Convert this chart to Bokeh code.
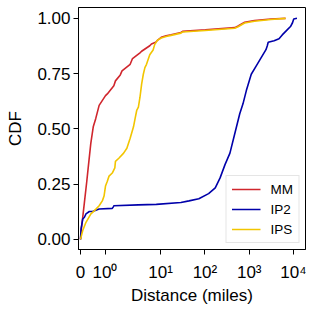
import numpy as np
from bokeh.plotting import figure
from bokeh.models import Range1d, FixedTicker, Legend, LegendItem, NumeralTickFormatter
from bokeh.embed import file_html
from bokeh.resources import INLINE

# ---------------- data (distance in miles, CDF) ----------------
mm_dist = [0, 0.02, 0.16, 0.25, 0.32, 0.42, 0.52, 0.62, 0.76, 1.02, 1.10, 1.44, 1.54, 1.88, 2.02,
           2.83, 3.12, 4.25, 4.55, 6.37, 6.83, 8.13, 8.96, 10.3, 13.3, 17.2, 28.6, 31.2, 102,
           473, 560, 789, 1313, 3080, 6620]
mm_cdf = [0, 0.03, 0.167, 0.256, 0.33, 0.434, 0.509, 0.546, 0.606, 0.650, 0.658, 0.695, 0.717,
          0.744, 0.762, 0.792, 0.818, 0.844, 0.851, 0.876, 0.884, 0.892, 0.903, 0.914, 0.921,
          0.926, 0.936, 0.941, 0.948, 0.958, 0.965, 0.982, 0.990, 0.997, 1.0]

ip2_dist = [0, 0.024, 0.092, 0.16, 0.224, 0.36, 0.49, 0.76, 1.35, 1.40, 1.44, 3.98, 8.36, 28.6,
            43.7, 72.8, 121, 171, 220, 284, 367, 473, 611, 723, 861, 1112, 1432, 1849, 2388,
            2550, 2685, 3648, 4710, 5572, 7194, 8551, 9500, 10120, 11970]
ip2_cdf = [0, 0.048, 0.092, 0.10, 0.115, 0.126, 0.126, 0.137, 0.140, 0.146, 0.152, 0.156, 0.158,
           0.167, 0.174, 0.184, 0.207, 0.233, 0.278, 0.338, 0.390, 0.479, 0.568, 0.613, 0.673,
           0.747, 0.784, 0.821, 0.858, 0.875, 0.892, 0.899, 0.908, 0.925, 0.948, 0.963, 0.980,
           0.997, 1.0]

ips_dist = [0, 0.092, 0.224, 0.424, 0.56, 0.76, 0.89, 0.96, 1.02, 1.10, 1.18, 1.35, 1.50, 1.54,
            1.77, 2.16, 2.47, 2.83, 3.25, 3.47, 3.71, 3.98, 4.25, 4.4, 4.55, 4.88, 5.21, 5.57,
            6.37, 7.32, 7.81, 8.72, 10.3, 13.3, 17.2, 28.6, 31.2, 102, 473, 560, 789, 1313,
            3080, 6620]
ips_cdf = [0, 0.040, 0.077, 0.115, 0.129, 0.152, 0.174, 0.196, 0.241, 0.263, 0.286, 0.300, 0.323,
           0.353, 0.367, 0.390, 0.412, 0.457, 0.509, 0.546, 0.583, 0.598, 0.643, 0.673, 0.702,
           0.747, 0.777, 0.792, 0.835, 0.857, 0.881, 0.900, 0.911, 0.918, 0.923, 0.933, 0.938,
           0.945, 0.955, 0.962, 0.979, 0.987, 0.995, 1.0]

x_ticks = [0, 1, 10, 100, 1000, 10000]
x_tick_labels = ["0", "10\u2070", "10\u00b9", "10\u00b2", "10\u00b3", "10\u2074"]
y_ticks = [0, 0.25, 0.5, 0.75, 1.0]

# ---------------- symlog-like x scale ----------------
LIN_END = 0.554       # axis position of 1 mile (linear part 0..1)
FIRST_DECADE = 1.256  # axis length of the 1..10 decade


def fwd(d):
    d = np.asarray(d, dtype=float)
    lg = np.log10(np.maximum(d, 1e-12))
    return np.where(d <= 1, d * LIN_END,
                    np.where(d <= 10, LIN_END + FIRST_DECADE * lg,
                             LIN_END + FIRST_DECADE + (lg - 1)))


FONT = "Liberation Sans"

p = figure(width=306, height=302, output_backend="svg", toolbar_location=None,
           x_range=Range1d(-0.045, 5.081), y_range=Range1d(-0.046, 1.049),
           min_border_left=78, min_border_right=1, min_border_top=7,
           min_border_bottom=53)
p.frame_width = 227
p.frame_height = 242

p.xgrid.visible = False
p.ygrid.visible = False
p.outline_line_color = "black"
p.outline_line_width = 1
p.background_fill_color = "white"
p.border_fill_color = "white"

tick_pos = [round(float(v), 4) for v in fwd(x_ticks)]
p.xaxis.ticker = FixedTicker(ticks=tick_pos)
p.xaxis.major_label_overrides = {tp: lab for tp, lab in zip(tick_pos, x_tick_labels)}
p.yaxis.ticker = FixedTicker(ticks=y_ticks)
p.yaxis.formatter = NumeralTickFormatter(format="0.00")

for ax in (p.xaxis[0], p.yaxis[0]):
    ax.axis_line_color = "black"
    ax.axis_line_width = 1
    ax.major_tick_line_color = "black"
    ax.major_tick_out = 5
    ax.major_tick_in = 0
    ax.minor_tick_out = 0
    ax.minor_tick_in = 0
    ax.major_label_text_font = FONT
    ax.major_label_text_font_size = "17px"
    ax.major_label_text_color = "black"
    ax.axis_label_text_font = FONT
    ax.axis_label_text_font_size = "17px"
    ax.axis_label_text_font_style = "normal"
    ax.axis_label_text_color = "black"

p.xaxis.axis_label = "Distance (miles)"
p.yaxis.axis_label = "CDF"
p.xaxis.major_label_standoff = 8
p.yaxis.major_label_standoff = 3
p.xaxis.axis_label_standoff = 1
p.yaxis.axis_label_standoff = 9

r_mm = p.line(fwd(mm_dist), mm_cdf, line_color="#d0262d", line_width=1.6)
r_ip2 = p.line(fwd(ip2_dist), ip2_cdf, line_color="#0000aa", line_width=1.6)
r_ips = p.line(fwd(ips_dist), ips_cdf, line_color="#f2c500", line_width=1.6)

legend = Legend(items=[LegendItem(label="MM", renderers=[r_mm]),
                       LegendItem(label="IP2", renderers=[r_ip2]),
                       LegendItem(label="IPS", renderers=[r_ips])],
                location="bottom_right")
legend.label_text_font = FONT
legend.label_text_font_size = "13.5px"
legend.label_text_color = "black"
legend.glyph_width = 29
legend.glyph_height = 16
legend.label_height = 16
legend.spacing = 4
legend.padding = 5
legend.label_standoff = 10
legend.margin = 6
legend.border_line_color = "#cccccc"
legend.border_line_width = 1
legend.background_fill_alpha = 0.85
p.add_layout(legend)

open("out.html", "w").write(file_html(p, INLINE))
